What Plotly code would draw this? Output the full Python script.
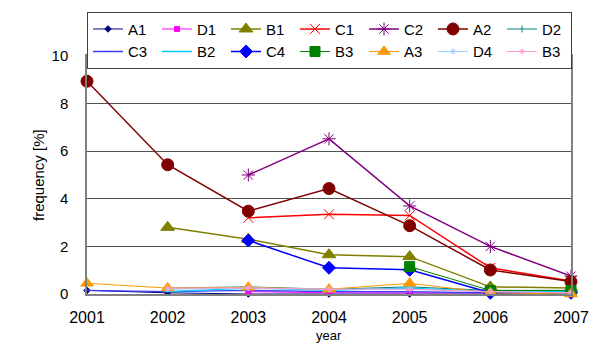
import plotly.graph_objects as go

years = [2001, 2002, 2003, 2004, 2005, 2006, 2007]

# frequency [%] per series; None where a series has no value for that year
A1 = [0.15, 0.05, 0.0, 0.0, 0.0, 0.0, 0.0]
D1 = [None, None, 0.1, 0.05, 0.05, 0.05, 0.05]
B1 = [None, 2.8, 2.3, 1.65, 1.57, 0.3, 0.25]
C1 = [None, None, 3.2, 3.35, 3.3, 1.1, 0.55]
C2 = [None, None, 5.0, 6.52, 3.7, 2.0, 0.75]
A2 = [8.94, 5.43, 3.48, 4.43, 2.87, 1.01, 0.52]
D2 = [None, 0.25, 0.3, 0.2, 0.3, 0.15, 0.15]
C3 = [0.15, 0.1, 0.15, 0.1, 0.1, 0.05, 0.05]
B2 = [None, 0.1, 0.25, 0.15, 0.25, 0.1, 0.1]
C4 = [None, None, 2.25, 1.1, 1.02, 0.05, 0.05]
B3g = [None, None, None, None, 1.15, 0.15, 0.15]
A3 = [0.45, 0.25, 0.28, 0.2, 0.45, 0.05, 0.0]
D4 = [None, 0.2, 0.25, 0.2, 0.2, 0.1, 0.05]
B3p = [None, 0.25, 0.25, 0.2, 0.2, 0.1, 0.05]

series = [
    ("A1", A1, "#000080", "diamond", 5, 1),
    ("D1", D1, "#ff00ff", "square", 5, 1),
    ("B1", B1, "#808000", "triangle-up", 12, 1.5),
    ("C1", C1, "#ff0000", "x-thin-open", 10, 1.5),
    ("C2", C2, "#800080", "asterisk-open", 11, 1.5),
    ("A2", A2, "#800000", "circle", 12, 1.5),
    ("D2", D2, "#008080", "line-ns-open", 5, 1),
    ("C3", C3, "#3c3cf0", "line-ew-open", 5, 1.3),
    ("B2", B2, "#00ccff", "line-ew-open", 5, 1.3),
    ("C4", C4, "#0000ff", "diamond", 10, 1.5),
    ("B3", B3g, "#008000", "square", 10, 1),
    ("A3", A3, "#ff9900", "triangle-up", 11, 1),
    ("D4", D4, "#99ccff", "asterisk-open", 5, 1),
    ("B3", B3p, "#ff99cc", "asterisk-open", 5, 1),
]

fig = go.Figure()
for name, vals, color, symbol, size, width in series:
    fig.add_trace(go.Scatter(
        x=years, y=vals, name=name, mode="lines+markers",
        line=dict(color=color, width=width),
        marker=dict(symbol=symbol, size=size, color=color,
                    line=dict(color=color, width=1)),
        cliponaxis=False, connectgaps=False,
    ))

font_family = "Liberation Sans, Arial, sans-serif"

fig.update_layout(
    width=600, height=347,
    margin=dict(l=87, r=29, t=52, b=53),
    paper_bgcolor="white", plot_bgcolor="white",
    font=dict(family=font_family, size=15, color="black"),
    showlegend=True,
    legend=dict(
        orientation="h", x=0, xanchor="left", y=1.186, yanchor="top",
        bordercolor="#404040", borderwidth=1,
        font=dict(size=15), itemwidth=30,
        entrywidth=24, entrywidthmode="pixels",
        tracegroupgap=0,
    ),
    xaxis=dict(
        range=[2001, 2007], tickvals=years, ticktext=[str(y) for y in years],
        showgrid=False, showline=True, linecolor="#808080", linewidth=1.5,
        mirror=True, ticks="", ticklabelstandoff=8, automargin=False,
        tickfont=dict(size=16),
        zeroline=False,
    ),
    yaxis=dict(
        range=[0, 10], tickvals=[0, 2, 4, 6, 8, 10],
        showgrid=True, gridcolor="#505050", gridwidth=1,
        showline=True, linecolor="#808080", linewidth=1.5, mirror=True,
        ticks="", ticklabelstandoff=14, automargin=False,
        tickfont=dict(size=15),
        zeroline=False,
    ),
    annotations=[
        dict(
            text="year", xref="paper", yref="paper", x=0.5, y=0,
            xanchor="center", yanchor="middle", yshift=-41,
            showarrow=False, font=dict(size=13),
        ),
        dict(
            text="frequency [%]", xref="paper", yref="paper", x=0, y=0.5,
            xanchor="center", yanchor="middle", xshift=-49, textangle=-90,
            showarrow=False, font=dict(size=15),
        ),
    ],
)

fig.write_html("out.html")
